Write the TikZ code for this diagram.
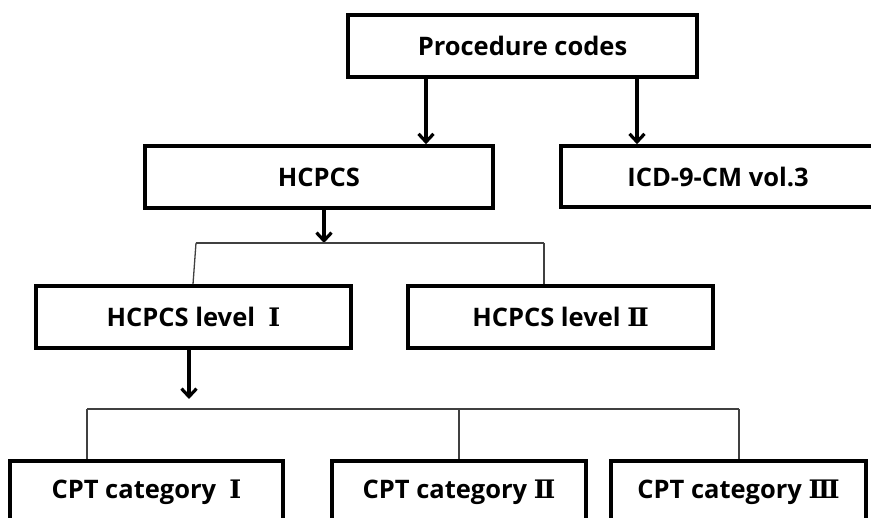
\documentclass[tikz,border=0pt]{standalone}
\usepackage{fontspec}
\setmainfont{Open Sans}
\newfontfamily\numfont{DejaVu Serif}
\usetikzlibrary{arrows.meta}
\tikzset{
  box/.style={draw=black, line width=3.6pt, fill=white, inner sep=0pt,
    font=\fontsize{25.5}{30}\selectfont\bfseries, text=black},
  arr/.style={line width=3.2pt, -{Straight Barb[length=8pt,width=15pt,line width=3.2pt]}},
  treeline/.style={line width=1.3pt, draw=black!75},
}
\newcommand{\rn}[1]{{\numfont\bfseries #1}}
\begin{document}
\begin{tikzpicture}[x=1pt,y=-1pt]
\useasboundingbox (0,0) rectangle (871,518);
\clip (0,0) rectangle (871,518);
% boxes
\node[box, minimum width=349pt, minimum height=62pt] (proc) at (522.5,46) {Procedure codes};
\node[box, minimum width=348pt, minimum height=62pt] (hcpcs) at (319,177) {HCPCS};
\node[box, minimum width=314pt, minimum height=61pt] (icd) at (718,176.5) {ICD-9-CM vol.3};
\node[box, minimum width=315pt, minimum height=62pt] (l1) at (193.5,317) {HCPCS level \ \rn{Ⅰ}};
\node[box, minimum width=305pt, minimum height=62pt] (l2) at (560.5,317) {HCPCS level \rn{Ⅱ}};
\node[box, minimum width=273pt, minimum height=62pt] (c1) at (146.5,492) {CPT category \ \rn{Ⅰ}};
\node[box, minimum width=254pt, minimum height=62pt] (c2) at (459,492) {CPT category \rn{Ⅱ}};
\node[box, minimum width=255pt, minimum height=62pt] (c3) at (738.5,492) {CPT category \rn{Ⅲ}};
% helper coordinates
\coordinate (a1) at (426,0);
\coordinate (a2) at (637,0);
\coordinate (a3) at (324,0);
\coordinate (a4) at (189,0);
\coordinate (b1) at (324,243);
\coordinate (bl) at (196,243);
\coordinate (blb) at (193,0);
\coordinate (br) at (544,243);
\coordinate (dl) at (87,409);
\coordinate (dm) at (459,409);
\coordinate (dr) at (739,409);
\coordinate (d1t) at (189,399);
% arrows
\draw[arr] (proc.south -| a1) -- (hcpcs.north -| a1);
\draw[arr] (proc.south -| a2) -- (icd.north -| a2);
\draw[arr] (hcpcs.south -| a3) -- (b1);
\draw[arr] (l1.south -| a4) -- (d1t);
% tree lines
\draw[treeline] (bl) -- (br);
\draw[treeline] (bl) -- (l1.north -| blb);
\draw[treeline] (br) -- (l2.north -| br);
\draw[treeline] (dl) -- (dr);
\draw[treeline] (dl) -- (c1.north -| dl);
\draw[treeline] (dm) -- (c2.north -| dm);
\draw[treeline] (dr) -- (c3.north -| dr);
\end{tikzpicture}
\end{document}
